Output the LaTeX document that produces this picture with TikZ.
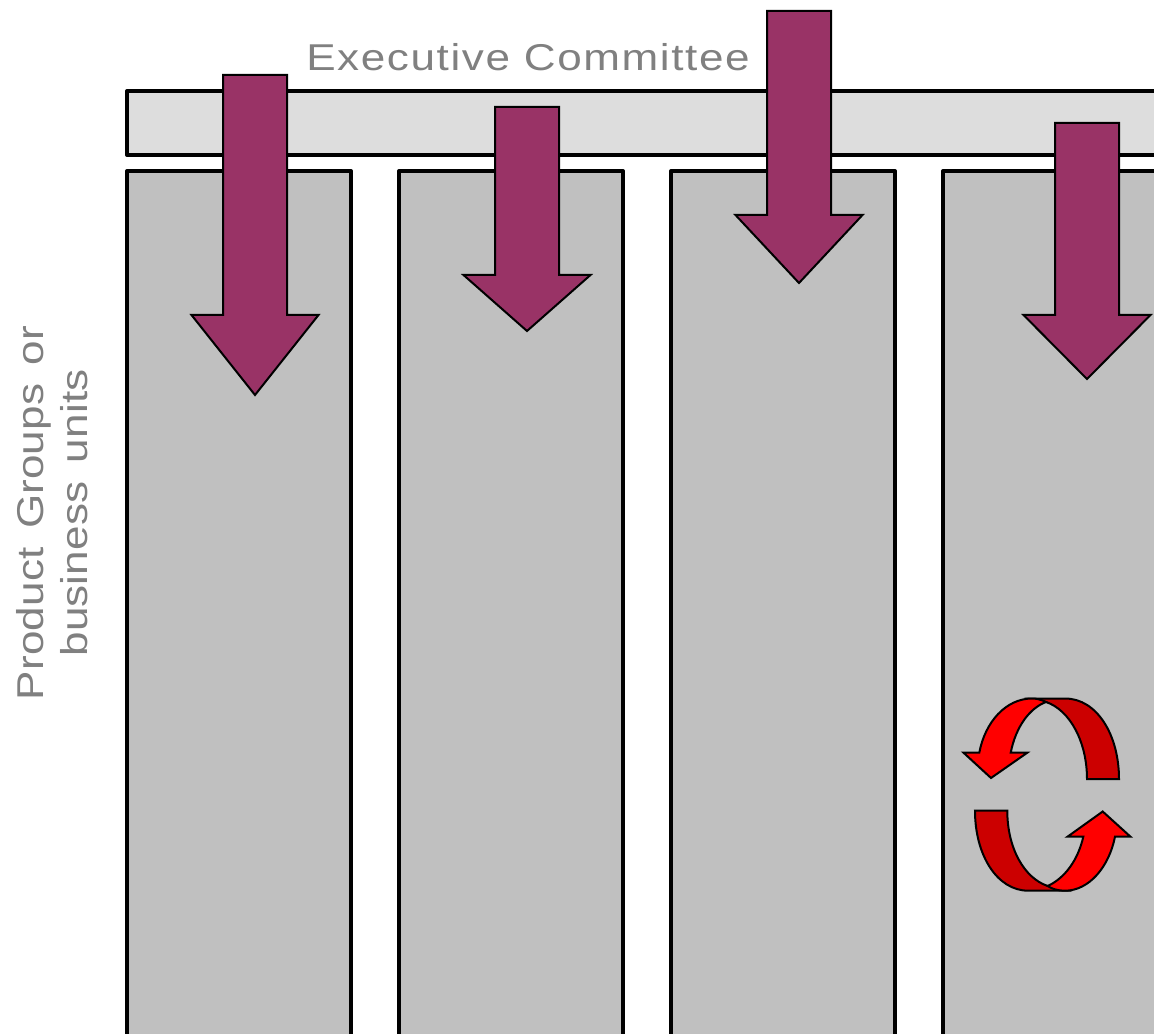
\documentclass[tikz,border=0pt]{standalone}
\usepackage{fontspec}
\setmainfont{Liberation Sans}[FakeStretch=1.18,LetterSpace=0.4,WordSpace=1.5]
\newfontfamily\execfont{Liberation Sans}[FakeStretch=1.18,LetterSpace=4.3]
\definecolor{labelgray}{HTML}{808080}
\definecolor{barfill}{HTML}{DDDDDD}
\definecolor{colfill}{HTML}{C0C0C0}
\definecolor{plum}{HTML}{993366}
\definecolor{brightred}{HTML}{FF0000}
\definecolor{darkred}{HTML}{CC0000}
\tikzset{
  panel/.style={draw=black,line width=3pt,line join=round},
  downarrow/.style={draw=black,line width=1.5pt,line join=miter,fill=plum},
  turn/.style={draw=black,line width=1.5pt,line join=miter},
  caption/.style={text=labelgray,font=\fontsize{28pt}{33pt}\selectfont,inner sep=0pt,align=center}
}
\newcommand{\dnarrow}[4]{% center x, top y, shoulder y, tip y
  \path[downarrow] (#1-32,#2) -- (#1+32,#2) -- (#1+32,#3) -- (#1+63.5,#3) -- (#1,#4) -- (#1-63.5,#3) -- (#1-32,#3) -- cycle;}
\begin{document}
\begin{tikzpicture}[x=0.75pt,y=-0.75pt]
\useasboundingbox (0,0) rectangle (1154,1034);
\clip (0,0) rectangle (1154,1034);
\path[panel,fill=barfill] (127,91) rectangle (1170,155);
\foreach \x in {127,399,671,943}
  \path[panel,fill=colfill] (\x,171) rectangle (\x+224,1045);
\dnarrow{255}{75}{315}{395}
\dnarrow{527}{107}{275}{331}
\dnarrow{799}{11}{215}{283}
\dnarrow{1087}{123}{315}{379}
% upper turning arrow
\path[turn,fill=darkred] (1087,779) -- (1119,779)
  .. controls (1119,735) and (1097,698.5) .. (1065,698.5)
  -- (1032,698.5) -- (1046,702)
  .. controls (1070,710) and (1087,742) .. (1087,779) -- cycle;
\path[turn,fill=brightred] (1046,702)
  .. controls (1030,708) and (1016,726) .. (1010.7,752.7)
  -- (1027.3,752.7) -- (991,778) -- (963.5,752.7) -- (979.3,752.7)
  .. controls (985,722) and (1006,698.5) .. (1032,698.5)
  .. controls (1037,698.5) and (1042,700) .. (1046,702) -- cycle;
% lower turning arrow
\path[turn,fill=darkred] (975,810.7) -- (1007.3,810.7)
  .. controls (1007.3,848) and (1024,878) .. (1047.7,886)
  -- (1065,890.7) -- (1028.3,890.7)
  .. controls (997,890.7) and (975,855) .. (975,810.7) -- cycle;
\path[turn,fill=brightred] (1047.7,886)
  .. controls (1065,878) and (1078,860) .. (1083.3,836.7)
  -- (1067.5,836.7) -- (1102.7,811.5) -- (1130.5,836.7) -- (1115,836.7)
  .. controls (1109,867) and (1089,890.7) .. (1065,890.7)
  .. controls (1058,890.7) and (1052,889) .. (1047.7,886) -- cycle;
\node[caption] (exec) at (528,57) {\execfont Executive Committee};
\node[caption,rotate=90] (groups) at (52,513) {Product Groups or\\business units};
\end{tikzpicture}
\end{document}
